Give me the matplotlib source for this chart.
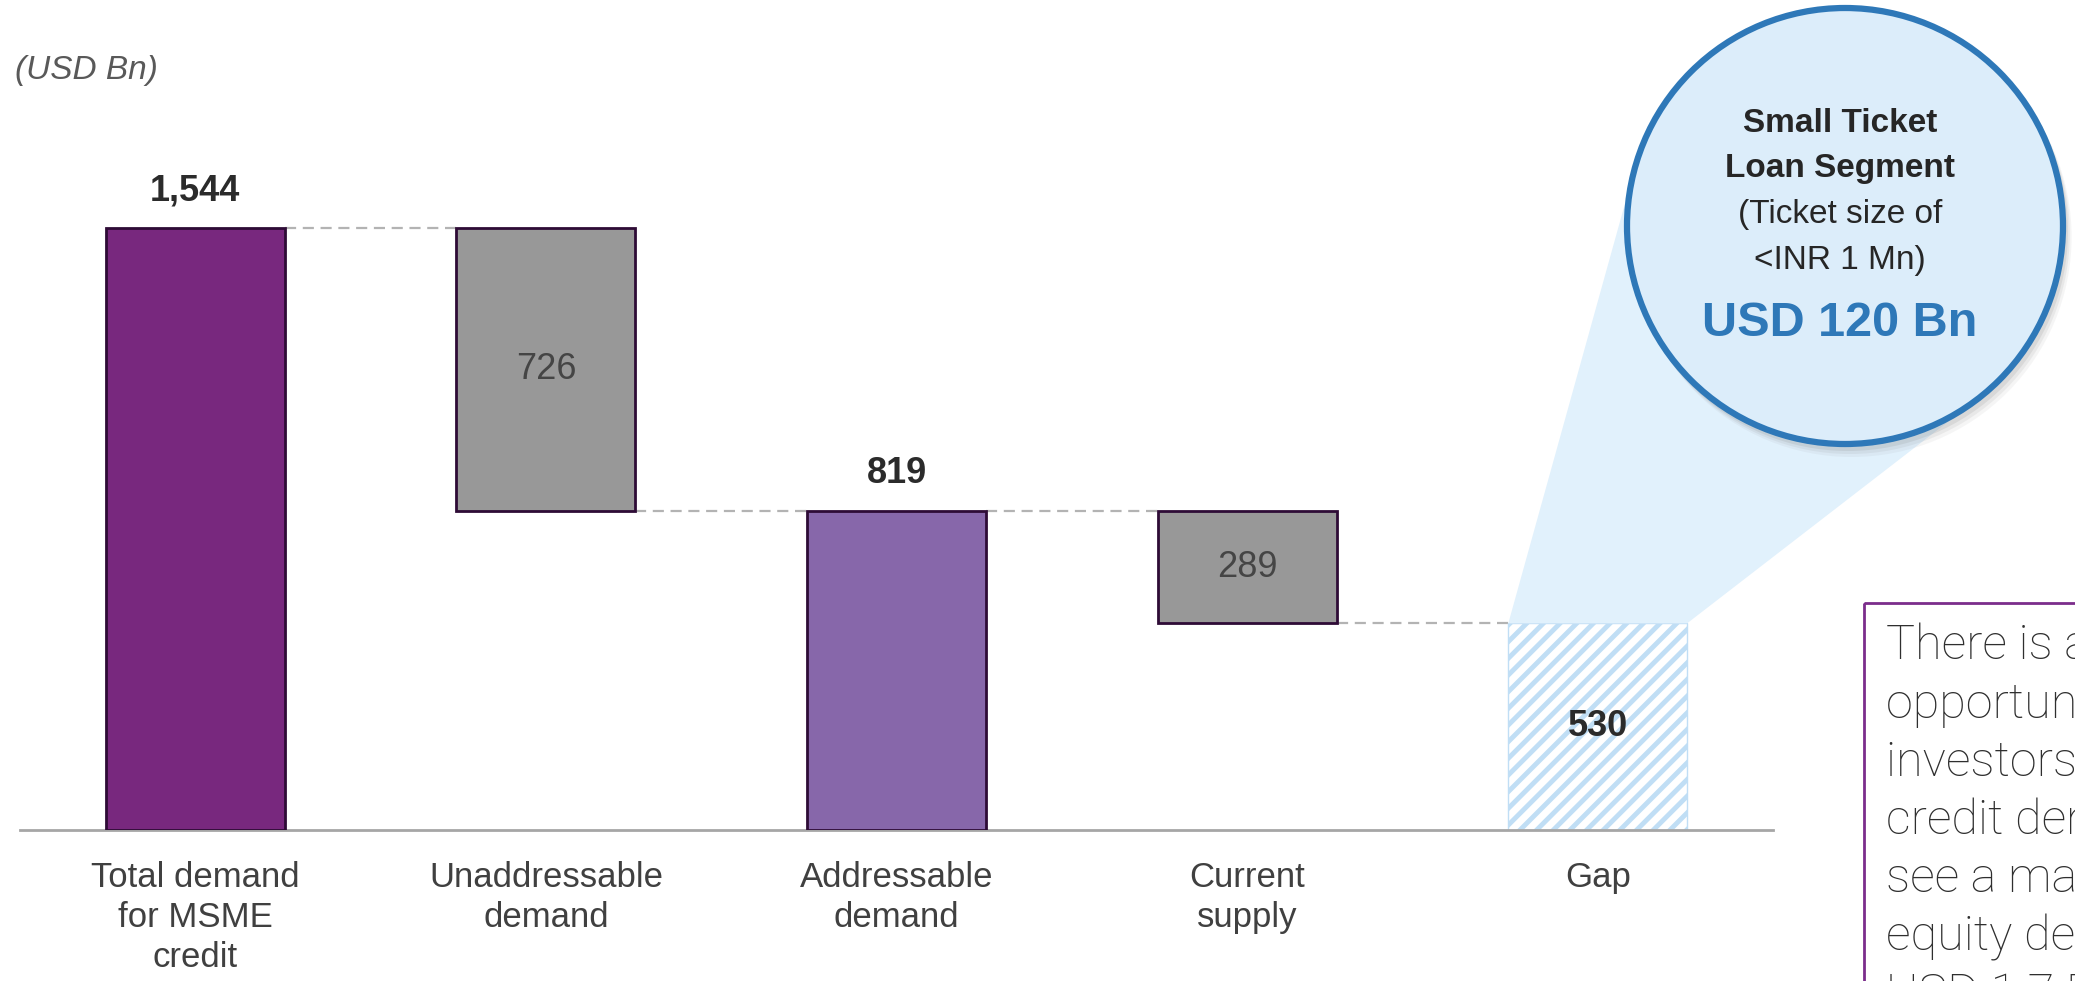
import numpy as np
import matplotlib
matplotlib.use('Agg')
import matplotlib.pyplot as plt
from matplotlib.patches import Circle, Polygon, Rectangle

# data
categories = ['Total demand\nfor MSME\ncredit', 'Unaddressable\ndemand', 'Addressable\ndemand',
              'Current\nsupply', 'Gap']
values = [1544, 726, 819, 289, 530]
kinds = ['total', 'decrease', 'total', 'decrease', 'gap']
value_labels = ['1,544', '726', '819', '289', '530']

bubble_lines = ['Small Ticket', 'Loan Segment', '(Ticket size of', '<INR 1 Mn)']
bubble_value = 'USD 120 Bn'
note_lines = ['There is a huge', 'opportunity for', 'investors as MSME', 'credit demand; we',
              'see a market for', 'equity demand of', 'USD 1.7 Bn']

SANS = ['Liberation Sans', 'DejaVu Sans']
plt.rcParams['hatch.linewidth'] = 3.5

W, H = 2075, 981
fig = plt.figure(figsize=(W / 100, H / 100), dpi=100)
ax = fig.add_axes([20 / W, 151 / H, 1753 / W, 662.8 / H])

colors = {'total': ['#78287e', '#8767aa'], 'decrease': '#989898'}
x = np.arange(len(values))
width = 0.51
level = 0
n_total = 0
tops = []
for i, (v, k) in enumerate(zip(values, kinds)):
    if k == 'total':
        bottom = 0
        fc = colors['total'][n_total]
        n_total += 1
        level = v
    elif k == 'decrease':
        bottom = level - v
        fc = colors['decrease']
        level = bottom
    else:
        bottom = 0
        fc = 'white'
    if k == 'gap':
        ax.bar(x[i], v, width, bottom=bottom, color='white', edgecolor='#c0def5',
               hatch='//', linewidth=1, zorder=2)
    else:
        ax.bar(x[i], v, width, bottom=bottom, color=fc, edgecolor='#2e0b36',
               linewidth=2, zorder=3)
    tops.append((bottom, bottom + v, level))

    if k == 'total':
        ax.annotate(value_labels[i], (x[i], bottom + v), xytext=(0, 27), textcoords='offset points',
                    ha='center', va='center', fontsize=26, fontweight='bold', color='#2b2b2b',
                    family=SANS)
    else:
        ax.text(x[i], bottom + v / 2, value_labels[i], ha='center', va='center', fontsize=26,
                fontweight='bold' if k == 'gap' else 'normal',
                color='#2b2b2b' if k == 'gap' else '#454545', family=SANS, zorder=4)

# connectors
for i in range(len(values) - 1):
    lvl = tops[i][2]
    ax.plot([x[i] + width / 2, x[i + 1] - width / 2], [lvl, lvl], color='#b3b3b3',
            lw=1.6, dashes=(5, 3), zorder=1)

ax.set_xlim(-0.5, 4.5)
ax.set_ylim(0, 1700)
ax.set_yticks([])
for s in ['top', 'left', 'right']:
    ax.spines[s].set_visible(False)
ax.spines['bottom'].set_color('#a6a6a6')
ax.spines['bottom'].set_linewidth(2)
ax.set_xticks(x)
ax.set_xticklabels(categories, fontsize=25, color='#404040', family=SANS, linespacing=1.28)
ax.tick_params(axis='x', length=0, pad=22)
ax.patch.set_alpha(0)

# overlay in pixel coordinates
ov = fig.add_axes([0, 0, 1, 1], zorder=5)
ov.set_xlim(0, W)
ov.set_ylim(H, 0)
ov.axis('off')
ov.patch.set_alpha(0)


def to_px(px, py):
    dx, dy = ax.transData.transform((px, py))
    return dx, H - dy


ov.text(15, 70, '(USD Bn)', fontsize=24, style='italic', color='#595959', va='center',
        family=SANS)

# bubble
cx, cy, r = 1845, 226, 218
gi = kinds.index('gap')
lt = np.array(to_px(x[gi] - width / 2, values[gi]))
rt = np.array(to_px(x[gi] + width / 2, values[gi]))
c = np.array([cx, cy])


def tangent(p, sign):
    d = p - c
    dist = np.hypot(*d)
    a = np.arccos(r / dist) * sign
    u = d / dist
    rot = np.array([[np.cos(a), -np.sin(a)], [np.sin(a), np.cos(a)]])
    return c + r * rot @ u


tl = tangent(lt, 1)
tr = tangent(rt, -1)
ov.add_patch(Polygon([lt, rt, tr, c, tl], closed=True, facecolor='#e1f1fc', edgecolor='none',
                     zorder=1))
for k, a in [(11, 0.07), (8, 0.1), (5, 0.15)]:
    ov.add_patch(Circle((cx + k * 0.6, cy + k), r + 2, facecolor='#7f7f7f', edgecolor='none',
                        alpha=a, zorder=2))
ov.add_patch(Circle((cx, cy), r, facecolor='#dcedfa', edgecolor='#2e78b8', lw=4.5, zorder=3))

bubble_y = [124, 169, 214, 261]
for j, (txt, yy) in enumerate(zip(bubble_lines, bubble_y)):
    ov.text(1840, yy, txt, ha='center', va='center', fontsize=24,
            fontweight='bold' if j < 2 else 'normal', color='#262626', family=SANS, zorder=4)
ov.text(1840, 323, bubble_value, ha='center', va='center', fontsize=35, fontweight='bold',
        color='#2e78b8', family=SANS, zorder=4)

# note box (cut off by the figure edge)
ov.add_patch(Rectangle((1864, 603), 400, 500, fill=False, edgecolor='#7b2d8b', lw=2, zorder=4))
for j, txt in enumerate(note_lines):
    ov.text(1886, 660 + j * 58, txt, ha='left', va='baseline', fontsize=35, fontweight='light',
            color='#2f2f2f', family=['Roboto', 'DejaVu Sans'], zorder=4)

fig.savefig('out.png', dpi=100)
